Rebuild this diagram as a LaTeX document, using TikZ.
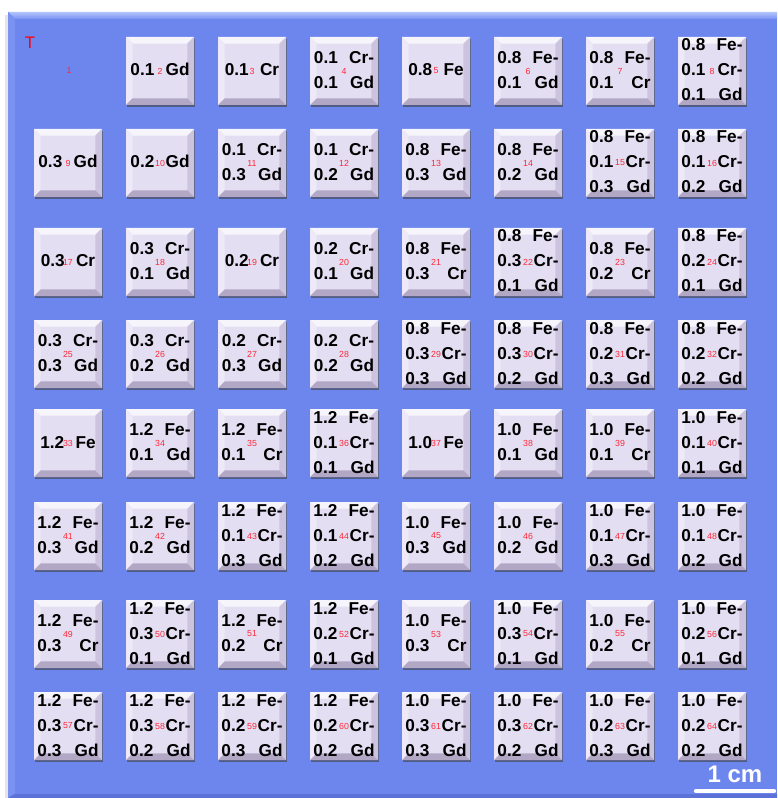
\documentclass[tikz,border=0pt]{standalone}
\usepackage{fontspec}
\setmainfont{Liberation Sans}
\usetikzlibrary{shadows}

\definecolor{panelblue}{RGB}{108,134,238}
\definecolor{paneltop}{RGB}{178,196,252}
\definecolor{panelside}{RGB}{122,146,242}
\definecolor{paneldark}{RGB}{92,114,214}
\definecolor{tileface}{RGB}{228,222,242}
\definecolor{tilelight}{RGB}{247,245,252}
\definecolor{tileside}{RGB}{237,233,248}
\definecolor{tiledark}{RGB}{204,196,222}
\definecolor{tilebottom}{RGB}{178,168,198}
\definecolor{idxred}{RGB}{255,40,56}

\newcommand{\mixA}[2]{\begin{tabular}{@{}l@{\hspace{8.5pt}}r@{}}#1&#2\end{tabular}}
\newcommand{\mixB}[4]{\begin{tabular}{@{}l@{\hspace{8.5pt}}r@{}}#1&#2\\#3&#4\end{tabular}}
\newcommand{\mixC}[6]{\begin{tabular}{@{}l@{\hspace{8.5pt}}r@{}}#1&#2\\#3&#4\\#5&#6\end{tabular}}

\tikzset{
  idx/.style={inner sep=0pt, text=idxred, font=\fontsize{6.6}{8}\selectfont},
  mix/.style={inner sep=0pt, text=black, font=\bfseries\fontsize{12.9}{18.75}\selectfont},
  tile/.style={idx, minimum size=51pt, fill=tileface,
    drop shadow={shadow xshift=0.8pt, shadow yshift=-1.8pt, opacity=.6, fill=black!75},
    path picture={
      \path (path picture bounding box.north west) coordinate (bnw)
            (path picture bounding box.north east) coordinate (bne)
            (path picture bounding box.south west) coordinate (bsw)
            (path picture bounding box.south east) coordinate (bse);
      \fill[tilelight] (bnw) -- (bne) -- ([shift={(-5pt,-5pt)}]bne) -- ([shift={(5pt,-5pt)}]bnw) -- cycle;
      \fill[tileside] (bnw) -- (bsw) -- ([shift={(5pt,5pt)}]bsw) -- ([shift={(5pt,-5pt)}]bnw) -- cycle;
      \fill[tiledark] (bne) -- (bse) -- ([shift={(-5pt,5pt)}]bse) -- ([shift={(-5pt,-5pt)}]bne) -- cycle;
      \fill[tilebottom] (bsw) -- (bse) -- ([shift={(-5pt,5pt)}]bse) -- ([shift={(5pt,5pt)}]bsw) -- cycle;
    }},
  scalebar/.style={white, line width=3.2pt, line cap=round}
}

\begin{document}
\begin{tikzpicture}[x=0.75pt,y=-0.75pt]
  \useasboundingbox (0,0) rectangle (777,798);
  % panel
  \fill[black!10] (5,15) rectangle (8,798);
  \fill[panelblue] (8,12) rectangle (777,798);
  \shade[top color=paneltop, bottom color=panelside] (8,12) -- (777,12) -- (777,19) -- (15,19) -- cycle;
  \fill[panelside] (8,12) -- (15,19) -- (15,793) -- (8,798) -- cycle;
  \fill[paneldark] (8,798) -- (15,794) -- (777,794) -- (777,798) -- cycle;

  \node[text=red, font=\fontsize{12.5}{14}\selectfont, inner sep=0pt] (tmark) at (30,43) {T};

  \node[idx] (t1) at (69,70) {1};
  \node[tile, label={[mix]center:\mixA{0.1}{Gd}}] (t2) at (160,71) {2};
  \node[tile, label={[mix]center:\mixA{0.1}{Cr}}] (t3) at (252,71) {3};
  \node[tile, label={[mix]center:\mixB{0.1}{Cr-}{0.1}{Gd}}] (t4) at (344,71) {4};
  \node[tile, label={[mix]center:\mixA{0.8}{Fe}}] (t5) at (436,71) {5};
  \node[tile, label={[mix]center:\mixB{0.8}{Fe-}{0.1}{Gd}}] (t6) at (528,71) {6};
  \node[tile, label={[mix]center:\mixB{0.8}{Fe-}{0.1}{Cr}}] (t7) at (620,71) {7};
  \node[tile, label={[mix]center:\mixC{0.8}{Fe-}{0.1}{Cr-}{0.1}{Gd}}] (t8) at (712,71) {8};

  \node[tile, label={[mix]center:\mixA{0.3}{Gd}}] (t9) at (68,163) {9};
  \node[tile, label={[mix]center:\mixA{0.2}{Gd}}] (t10) at (160,163) {10};
  \node[tile, label={[mix]center:\mixB{0.1}{Cr-}{0.3}{Gd}}] (t11) at (252,163) {11};
  \node[tile, label={[mix]center:\mixB{0.1}{Cr-}{0.2}{Gd}}] (t12) at (344,163) {12};
  \node[tile, label={[mix]center:\mixB{0.8}{Fe-}{0.3}{Gd}}] (t13) at (436,163) {13};
  \node[tile, label={[mix]center:\mixB{0.8}{Fe-}{0.2}{Gd}}] (t14) at (528,163) {14};
  \node[tile, label={[mix]center:\mixC{0.8}{Fe-}{0.1}{Cr-}{0.3}{Gd}}] (t15) at (620,163) {15};
  \node[tile, label={[mix]center:\mixC{0.8}{Fe-}{0.1}{Cr-}{0.2}{Gd}}] (t16) at (712,163) {16};

  \node[tile, label={[mix]center:\mixA{0.3}{Cr}}] (t17) at (68,262) {17};
  \node[tile, label={[mix]center:\mixB{0.3}{Cr-}{0.1}{Gd}}] (t18) at (160,262) {18};
  \node[tile, label={[mix]center:\mixA{0.2}{Cr}}] (t19) at (252,262) {19};
  \node[tile, label={[mix]center:\mixB{0.2}{Cr-}{0.1}{Gd}}] (t20) at (344,262) {20};
  \node[tile, label={[mix]center:\mixB{0.8}{Fe-}{0.3}{Cr}}] (t21) at (436,262) {21};
  \node[tile, label={[mix]center:\mixC{0.8}{Fe-}{0.3}{Cr-}{0.1}{Gd}}] (t22) at (528,262) {22};
  \node[tile, label={[mix]center:\mixB{0.8}{Fe-}{0.2}{Cr}}] (t23) at (620,262) {23};
  \node[tile, label={[mix]center:\mixC{0.8}{Fe-}{0.2}{Cr-}{0.1}{Gd}}] (t24) at (712,262) {24};

  \node[tile, label={[mix]center:\mixB{0.3}{Cr-}{0.3}{Gd}}] (t25) at (68,354) {25};
  \node[tile, label={[mix]center:\mixB{0.3}{Cr-}{0.2}{Gd}}] (t26) at (160,354) {26};
  \node[tile, label={[mix]center:\mixB{0.2}{Cr-}{0.3}{Gd}}] (t27) at (252,354) {27};
  \node[tile, label={[mix]center:\mixB{0.2}{Cr-}{0.2}{Gd}}] (t28) at (344,354) {28};
  \node[tile, label={[mix]center:\mixC{0.8}{Fe-}{0.3}{Cr-}{0.3}{Gd}}] (t29) at (436,354) {29};
  \node[tile, label={[mix]center:\mixC{0.8}{Fe-}{0.3}{Cr-}{0.2}{Gd}}] (t30) at (528,354) {30};
  \node[tile, label={[mix]center:\mixC{0.8}{Fe-}{0.2}{Cr-}{0.3}{Gd}}] (t31) at (620,354) {31};
  \node[tile, label={[mix]center:\mixC{0.8}{Fe-}{0.2}{Cr-}{0.2}{Gd}}] (t32) at (712,354) {32};

  \node[tile, label={[mix]center:\mixA{1.2}{Fe}}] (t33) at (68,443) {33};
  \node[tile, label={[mix]center:\mixB{1.2}{Fe-}{0.1}{Gd}}] (t34) at (160,443) {34};
  \node[tile, label={[mix]center:\mixB{1.2}{Fe-}{0.1}{Cr}}] (t35) at (252,443) {35};
  \node[tile, label={[mix]center:\mixC{1.2}{Fe-}{0.1}{Cr-}{0.1}{Gd}}] (t36) at (344,443) {36};
  \node[tile, label={[mix]center:\mixA{1.0}{Fe}}] (t37) at (436,443) {37};
  \node[tile, label={[mix]center:\mixB{1.0}{Fe-}{0.1}{Gd}}] (t38) at (528,443) {38};
  \node[tile, label={[mix]center:\mixB{1.0}{Fe-}{0.1}{Cr}}] (t39) at (620,443) {39};
  \node[tile, label={[mix]center:\mixC{1.0}{Fe-}{0.1}{Cr-}{0.1}{Gd}}] (t40) at (712,443) {40};

  \node[tile, label={[mix]center:\mixB{1.2}{Fe-}{0.3}{Gd}}] (t41) at (68,536) {41};
  \node[tile, label={[mix]center:\mixB{1.2}{Fe-}{0.2}{Gd}}] (t42) at (160,536) {42};
  \node[tile, label={[mix]center:\mixC{1.2}{Fe-}{0.1}{Cr-}{0.3}{Gd}}] (t43) at (252,536) {43};
  \node[tile, label={[mix]center:\mixC{1.2}{Fe-}{0.1}{Cr-}{0.2}{Gd}}] (t44) at (344,536) {44};
  \node[tile, label={[mix]center:\mixB{1.0}{Fe-}{0.3}{Gd}}] (t45) at (436,536) {45};
  \node[tile, label={[mix]center:\mixB{1.0}{Fe-}{0.2}{Gd}}] (t46) at (528,536) {46};
  \node[tile, label={[mix]center:\mixC{1.0}{Fe-}{0.1}{Cr-}{0.3}{Gd}}] (t47) at (620,536) {47};
  \node[tile, label={[mix]center:\mixC{1.0}{Fe-}{0.1}{Cr-}{0.2}{Gd}}] (t48) at (712,536) {48};

  \node[tile, label={[mix]center:\mixB{1.2}{Fe-}{0.3}{Cr}}] (t49) at (68,634) {49};
  \node[tile, label={[mix]center:\mixC{1.2}{Fe-}{0.3}{Cr-}{0.1}{Gd}}] (t50) at (160,634) {50};
  \node[tile, label={[mix]center:\mixB{1.2}{Fe-}{0.2}{Cr}}] (t51) at (252,634) {51};
  \node[tile, label={[mix]center:\mixC{1.2}{Fe-}{0.2}{Cr-}{0.1}{Gd}}] (t52) at (344,634) {52};
  \node[tile, label={[mix]center:\mixB{1.0}{Fe-}{0.3}{Cr}}] (t53) at (436,634) {53};
  \node[tile, label={[mix]center:\mixC{1.0}{Fe-}{0.3}{Cr-}{0.1}{Gd}}] (t54) at (528,634) {54};
  \node[tile, label={[mix]center:\mixB{1.0}{Fe-}{0.2}{Cr}}] (t55) at (620,634) {55};
  \node[tile, label={[mix]center:\mixC{1.0}{Fe-}{0.2}{Cr-}{0.1}{Gd}}] (t56) at (712,634) {56};

  \node[tile, label={[mix]center:\mixC{1.2}{Fe-}{0.3}{Cr-}{0.3}{Gd}}] (t57) at (68,726) {57};
  \node[tile, label={[mix]center:\mixC{1.2}{Fe-}{0.3}{Cr-}{0.2}{Gd}}] (t58) at (160,726) {58};
  \node[tile, label={[mix]center:\mixC{1.2}{Fe-}{0.2}{Cr-}{0.3}{Gd}}] (t59) at (252,726) {59};
  \node[tile, label={[mix]center:\mixC{1.2}{Fe-}{0.2}{Cr-}{0.2}{Gd}}] (t60) at (344,726) {60};
  \node[tile, label={[mix]center:\mixC{1.0}{Fe-}{0.3}{Cr-}{0.3}{Gd}}] (t61) at (436,726) {61};
  \node[tile, label={[mix]center:\mixC{1.0}{Fe-}{0.3}{Cr-}{0.2}{Gd}}] (t62) at (528,726) {62};
  \node[tile, label={[mix]center:\mixC{1.0}{Fe-}{0.2}{Cr-}{0.3}{Gd}}] (t63) at (620,726) {63};
  \node[tile, label={[mix]center:\mixC{1.0}{Fe-}{0.2}{Cr-}{0.2}{Gd}}] (t64) at (712,726) {64};

  % scale bar
  \coordinate (barL) at (696,791);
  \coordinate (barR) at (774,791);
  \draw[scalebar] (barL) -- (barR);
  \node[text=white, font=\bfseries\fontsize{18}{20}\selectfont, inner sep=0pt] (barlbl) at (735,774) {1 cm};
\end{tikzpicture}
\end{document}
